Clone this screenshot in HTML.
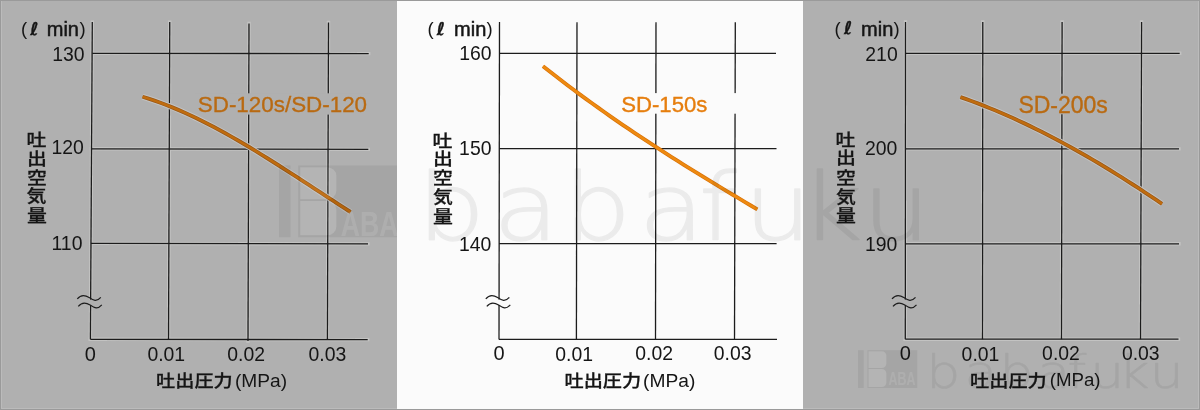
<!DOCTYPE html>
<html><head><meta charset="utf-8"><title>SD series air flow charts</title>
<style>
html,body{margin:0;padding:0;width:1200px;height:410px;overflow:hidden;background:#b0b0b0}
svg{display:block}

.num{font-family:"Liberation Sans",sans-serif}
.unitp{font-family:"Liberation Sans",sans-serif}
.unitm{font-family:"Liberation Sans",sans-serif;stroke:#151515;stroke-width:0.5px}
.ell{font-family:"DejaVu Sans",sans-serif;font-weight:bold;stroke:#151515;stroke-width:0.35px}
.jp{font-family:"Liberation Sans","Noto Sans CJK JP",sans-serif;font-weight:500;stroke:#151515;stroke-width:0.3px}
.mpa{font-family:"Liberation Sans",sans-serif}
.sd{font-family:"Liberation Sans",sans-serif;stroke-width:0.35px}

</style></head><body>
<svg width="1200" height="410" viewBox="0 0 1200 410">
<rect x="0" y="0" width="1200" height="410" fill="#b0b0b0"/><rect x="397" y="0" width="406" height="410" fill="#fbfbfb"/><g stroke="#c3c3c2" stroke-width="3.4" stroke-linecap="square"><line x1="92.3" y1="53.4" x2="368.7" y2="53.6"/><line x1="91.5" y1="148.8" x2="368.3" y2="149.4"/><line x1="90.9" y1="243.4" x2="368" y2="243.9"/><line x1="90.4" y1="339.3" x2="367.7" y2="339.6"/><line x1="92.3" y1="22.1" x2="90.4" y2="339.3"/><line x1="169.75" y1="22.1" x2="168.5" y2="339.3"/><line x1="249" y1="23.5" x2="248" y2="341"/><line x1="328.5" y1="22.5" x2="327.4" y2="339.3"/></g><g stroke="#1c1c1c" stroke-width="1.3"><line x1="92.3" y1="53.4" x2="368.7" y2="53.6"/><line x1="91.5" y1="148.8" x2="368.3" y2="149.4"/><line x1="90.9" y1="243.4" x2="368" y2="243.9"/><line x1="90.4" y1="339.3" x2="367.7" y2="339.6"/><line x1="92.3" y1="22.1" x2="90.4" y2="339.3"/><line x1="169.75" y1="22.1" x2="168.5" y2="339.3"/><line x1="249" y1="23.5" x2="248" y2="341"/><line x1="328.5" y1="22.5" x2="327.4" y2="339.3"/></g><rect x="195" y="93.3" width="175" height="21.299999999999997" fill="#b0b0b0"/><rect x="87.63540353089535" y="299.6" width="6" height="5.4" fill="#b0b0b0"/><g fill="none" stroke="#1c1c1c" stroke-width="1.2"><path d="M77.3 298.9 C80.6 294.8 84.6 294.6 89.1 297.6 S96.6 302 100.8 297.3"/><path d="M78.3 306.4 C81.6 302.3 85.6 302.1 90.1 305.1 S97.6 309.5 101.8 304.8"/></g><path d="M142.60 96.76 L148.54 98.61 L154.48 100.60 L160.42 102.72 L166.36 104.97 L172.30 107.35 L178.24 109.84 L184.18 112.45 L190.12 115.17 L196.06 117.99 L202.00 120.92 L207.94 123.93 L213.88 127.04 L219.82 130.24 L225.76 133.51 L231.70 136.86 L237.64 140.27 L243.58 143.76 L249.52 147.30 L255.46 150.90 L261.40 154.55 L267.34 158.24 L273.28 161.98 L279.22 165.75 L285.16 169.55 L291.10 173.38 L297.04 177.23 L302.98 181.09 L308.92 184.97 L314.86 188.85 L320.80 192.73 L326.74 196.61 L332.68 200.48 L338.62 204.34 L344.56 208.18 L350.50 212.00" fill="none" stroke="#c3c3c2" stroke-width="5.9" stroke-linejoin="round"/><path d="M142.60 96.76 L148.54 98.61 L154.48 100.60 L160.42 102.72 L166.36 104.97 L172.30 107.35 L178.24 109.84 L184.18 112.45 L190.12 115.17 L196.06 117.99 L202.00 120.92 L207.94 123.93 L213.88 127.04 L219.82 130.24 L225.76 133.51 L231.70 136.86 L237.64 140.27 L243.58 143.76 L249.52 147.30 L255.46 150.90 L261.40 154.55 L267.34 158.24 L273.28 161.98 L279.22 165.75 L285.16 169.55 L291.10 173.38 L297.04 177.23 L302.98 181.09 L308.92 184.97 L314.86 188.85 L320.80 192.73 L326.74 196.61 L332.68 200.48 L338.62 204.34 L344.56 208.18 L350.50 212.00" fill="none" stroke="#98581a" stroke-width="3.9" stroke-linejoin="round"/><path d="M142.60 96.76 L148.54 98.61 L154.48 100.60 L160.42 102.72 L166.36 104.97 L172.30 107.35 L178.24 109.84 L184.18 112.45 L190.12 115.17 L196.06 117.99 L202.00 120.92 L207.94 123.93 L213.88 127.04 L219.82 130.24 L225.76 133.51 L231.70 136.86 L237.64 140.27 L243.58 143.76 L249.52 147.30 L255.46 150.90 L261.40 154.55 L267.34 158.24 L273.28 161.98 L279.22 165.75 L285.16 169.55 L291.10 173.38 L297.04 177.23 L302.98 181.09 L308.92 184.97 L314.86 188.85 L320.80 192.73 L326.74 196.61 L332.68 200.48 L338.62 204.34 L344.56 208.18 L350.50 212.00" fill="none" stroke="#c06c0e" stroke-width="2.5" stroke-linejoin="round"/><g stroke="#1c1c1c" stroke-width="1.3"><line x1="499.5" y1="53.3" x2="776" y2="53.3"/><line x1="499.3" y1="148.7" x2="776.5" y2="148.7"/><line x1="499.1" y1="243.6" x2="776.6" y2="243.6"/><line x1="499" y1="339.3" x2="777" y2="339.3"/><line x1="499.5" y1="22.1" x2="499" y2="339.4"/><line x1="577" y1="22.3" x2="576.4" y2="339.4"/><line x1="656" y1="22.3" x2="655.5" y2="339.4"/><line x1="735.3" y1="22.3" x2="734.5" y2="339.4"/></g><rect x="617" y="93.1" width="128" height="20.60000000000001" fill="#fbfbfb"/><rect x="496.06208635360855" y="299.6" width="6" height="5.4" fill="#fbfbfb"/><g fill="none" stroke="#1c1c1c" stroke-width="1.2"><path d="M485.8 298.9 C489.1 294.8 493.1 294.6 497.6 297.6 S505.1 302 509.3 297.3"/><path d="M486.8 306.4 C490.1 302.3 494.1 302.1 498.6 305.1 S506.1 309.5 510.3 304.8"/></g><path d="M543.00 66.21 L549.12 71.04 L555.25 75.81 L561.37 80.52 L567.49 85.18 L573.61 89.78 L579.74 94.32 L585.86 98.82 L591.98 103.26 L598.11 107.66 L604.23 112.00 L610.35 116.30 L616.47 120.55 L622.60 124.77 L628.72 128.93 L634.84 133.06 L640.97 137.15 L647.09 141.20 L653.21 145.22 L659.33 149.20 L665.46 153.14 L671.58 157.06 L677.70 160.94 L683.83 164.80 L689.95 168.62 L696.07 172.43 L702.19 176.20 L708.32 179.96 L714.44 183.69 L720.56 187.40 L726.69 191.09 L732.81 194.77 L738.93 198.43 L745.05 202.08 L751.18 205.71 L757.30 209.33" fill="none" stroke="#d8720a" stroke-width="3.9" stroke-linejoin="round"/><path d="M543.00 66.21 L549.12 71.04 L555.25 75.81 L561.37 80.52 L567.49 85.18 L573.61 89.78 L579.74 94.32 L585.86 98.82 L591.98 103.26 L598.11 107.66 L604.23 112.00 L610.35 116.30 L616.47 120.55 L622.60 124.77 L628.72 128.93 L634.84 133.06 L640.97 137.15 L647.09 141.20 L653.21 145.22 L659.33 149.20 L665.46 153.14 L671.58 157.06 L677.70 160.94 L683.83 164.80 L689.95 168.62 L696.07 172.43 L702.19 176.20 L708.32 179.96 L714.44 183.69 L720.56 187.40 L726.69 191.09 L732.81 194.77 L738.93 198.43 L745.05 202.08 L751.18 205.71 L757.30 209.33" fill="none" stroke="#ee8a10" stroke-width="2.5" stroke-linejoin="round"/><g stroke="#c3c3c2" stroke-width="3.4" stroke-linecap="square"><line x1="905.5" y1="53.3" x2="1179.7" y2="53.3"/><line x1="905.4" y1="148.85" x2="1179" y2="148.85"/><line x1="905.4" y1="243.8" x2="1179" y2="243.8"/><line x1="905.3" y1="339.2" x2="1178.5" y2="339.2"/><line x1="905.5" y1="21.9" x2="905.3" y2="339.2"/><line x1="982.8" y1="22" x2="982.5" y2="339.2"/><line x1="1062.1" y1="22" x2="1061.5" y2="339.2"/><line x1="1141.6" y1="22" x2="1140.5" y2="339.2"/></g><g stroke="#1c1c1c" stroke-width="1.3"><line x1="905.5" y1="53.3" x2="1179.7" y2="53.3"/><line x1="905.4" y1="148.85" x2="1179" y2="148.85"/><line x1="905.4" y1="243.8" x2="1179" y2="243.8"/><line x1="905.3" y1="339.2" x2="1178.5" y2="339.2"/><line x1="905.5" y1="21.9" x2="905.3" y2="339.2"/><line x1="982.8" y1="22" x2="982.5" y2="339.2"/><line x1="1062.1" y1="22" x2="1061.5" y2="339.2"/><line x1="1141.6" y1="22" x2="1140.5" y2="339.2"/></g><rect x="1015" y="93.7" width="97" height="20.599999999999994" fill="#b0b0b0"/><rect x="902.3247084777812" y="299.6" width="6" height="5.4" fill="#b0b0b0"/><g fill="none" stroke="#1c1c1c" stroke-width="1.2"><path d="M892.0 298.9 C895.3 294.8 899.3 294.6 903.8 297.6 S911.3 302 915.5 297.3"/><path d="M893.0 306.4 C896.3 302.3 900.3 302.1 904.8 305.1 S912.3 309.5 916.5 304.8"/></g><path d="M960.50 97.11 L966.26 99.14 L972.01 101.24 L977.77 103.41 L983.53 105.65 L989.29 107.95 L995.04 110.32 L1000.80 112.76 L1006.56 115.26 L1012.31 117.82 L1018.07 120.45 L1023.83 123.14 L1029.59 125.88 L1035.34 128.69 L1041.10 131.56 L1046.86 134.49 L1052.61 137.47 L1058.37 140.51 L1064.13 143.60 L1069.89 146.75 L1075.64 149.96 L1081.40 153.21 L1087.16 156.52 L1092.91 159.88 L1098.67 163.29 L1104.43 166.75 L1110.19 170.25 L1115.94 173.81 L1121.70 177.41 L1127.46 181.05 L1133.21 184.74 L1138.97 188.48 L1144.73 192.26 L1150.49 196.08 L1156.24 199.94 L1162.00 203.84" fill="none" stroke="#c3c3c2" stroke-width="5.9" stroke-linejoin="round"/><path d="M960.50 97.11 L966.26 99.14 L972.01 101.24 L977.77 103.41 L983.53 105.65 L989.29 107.95 L995.04 110.32 L1000.80 112.76 L1006.56 115.26 L1012.31 117.82 L1018.07 120.45 L1023.83 123.14 L1029.59 125.88 L1035.34 128.69 L1041.10 131.56 L1046.86 134.49 L1052.61 137.47 L1058.37 140.51 L1064.13 143.60 L1069.89 146.75 L1075.64 149.96 L1081.40 153.21 L1087.16 156.52 L1092.91 159.88 L1098.67 163.29 L1104.43 166.75 L1110.19 170.25 L1115.94 173.81 L1121.70 177.41 L1127.46 181.05 L1133.21 184.74 L1138.97 188.48 L1144.73 192.26 L1150.49 196.08 L1156.24 199.94 L1162.00 203.84" fill="none" stroke="#98581a" stroke-width="3.9" stroke-linejoin="round"/><path d="M960.50 97.11 L966.26 99.14 L972.01 101.24 L977.77 103.41 L983.53 105.65 L989.29 107.95 L995.04 110.32 L1000.80 112.76 L1006.56 115.26 L1012.31 117.82 L1018.07 120.45 L1023.83 123.14 L1029.59 125.88 L1035.34 128.69 L1041.10 131.56 L1046.86 134.49 L1052.61 137.47 L1058.37 140.51 L1064.13 143.60 L1069.89 146.75 L1075.64 149.96 L1081.40 153.21 L1087.16 156.52 L1092.91 159.88 L1098.67 163.29 L1104.43 166.75 L1110.19 170.25 L1115.94 173.81 L1121.70 177.41 L1127.46 181.05 L1133.21 184.74 L1138.97 188.48 L1144.73 192.26 L1150.49 196.08 L1156.24 199.94 L1162.00 203.84" fill="none" stroke="#c06c0e" stroke-width="2.5" stroke-linejoin="round"/><g fill="#151515"><text class="unitp" x="21.10" y="35.05" style="font-size:18.50px">(</text><text class="ell" x="30.15" y="34.50" style="font-size:17.50px">ℓ</text><text class="unitm" x="46.75" y="35.75" style="font-size:20.00px">min</text><text class="unitp" x="79.50" y="35.05" style="font-size:18.50px">)</text><text class="unitp" x="427.60" y="35.10" style="font-size:18.50px">(</text><text class="ell" x="436.85" y="34.60" style="font-size:17.50px">ℓ</text><text class="unitm" x="454.05" y="35.50" style="font-size:20.00px">min</text><text class="unitp" x="486.50" y="35.10" style="font-size:18.50px">)</text><text class="unitp" x="834.60" y="34.75" style="font-size:18.50px">(</text><text class="ell" x="844.10" y="33.90" style="font-size:17.50px">ℓ</text><text class="unitm" x="861.05" y="35.50" style="font-size:20.00px">min</text><text class="unitp" x="893.50" y="34.75" style="font-size:18.50px">)</text><text class="num" transform="translate(52.20 60.90) scale(0.971 1.000)" style="font-size:20.00px">130</text><text class="num" transform="translate(51.40 154.30) scale(0.971 1.000)" style="font-size:20.00px">120</text><text class="num" transform="translate(51.50 250.30) scale(0.971 1.000)" style="font-size:20.00px">110</text><text class="num" transform="translate(459.20 60.40) scale(0.971 1.000)" style="font-size:20.00px">160</text><text class="num" transform="translate(459.10 155.20) scale(0.971 1.000)" style="font-size:20.00px">150</text><text class="num" transform="translate(459.00 250.60) scale(0.971 1.000)" style="font-size:20.00px">140</text><text class="num" transform="translate(865.30 60.80) scale(0.971 1.000)" style="font-size:20.00px">210</text><text class="num" transform="translate(864.90 154.60) scale(0.971 1.000)" style="font-size:20.00px">200</text><text class="num" transform="translate(864.90 251.00) scale(0.971 1.000)" style="font-size:20.00px">190</text><text class="jp" transform="translate(26.50 146.00) scale(1.048 0.880)" style="font-size:19.00px">吐</text><text class="jp" transform="translate(27.00 164.80) scale(1.048 0.880)" style="font-size:19.00px">出</text><text class="jp" transform="translate(27.00 184.10) scale(1.048 0.880)" style="font-size:19.00px">空</text><text class="jp" transform="translate(26.50 202.00) scale(1.048 0.880)" style="font-size:19.00px">気</text><text class="jp" transform="translate(27.00 221.80) scale(1.048 0.880)" style="font-size:19.00px">量</text><text class="jp" transform="translate(432.40 146.80) scale(1.048 0.880)" style="font-size:19.00px">吐</text><text class="jp" transform="translate(432.90 164.60) scale(1.048 0.880)" style="font-size:19.00px">出</text><text class="jp" transform="translate(432.90 183.90) scale(1.048 0.880)" style="font-size:19.00px">空</text><text class="jp" transform="translate(432.90 202.80) scale(1.048 0.880)" style="font-size:19.00px">気</text><text class="jp" transform="translate(432.90 222.60) scale(1.048 0.880)" style="font-size:19.00px">量</text><text class="jp" transform="translate(835.50 145.60) scale(1.048 0.880)" style="font-size:19.00px">吐</text><text class="jp" transform="translate(836.00 164.40) scale(1.048 0.880)" style="font-size:19.00px">出</text><text class="jp" transform="translate(836.00 183.70) scale(1.048 0.880)" style="font-size:19.00px">空</text><text class="jp" transform="translate(836.00 202.60) scale(1.048 0.880)" style="font-size:19.00px">気</text><text class="jp" transform="translate(836.00 222.40) scale(1.048 0.880)" style="font-size:19.00px">量</text><text class="num" x="84.85" y="360.60" style="font-size:20.00px">0</text><text class="num" transform="translate(147.40 361.00) scale(0.970 1.000)" style="font-size:20.00px">0.01</text><text class="num" transform="translate(227.30 361.00) scale(0.970 1.000)" style="font-size:20.00px">0.02</text><text class="num" transform="translate(308.50 361.00) scale(0.970 1.000)" style="font-size:20.00px">0.03</text><text class="num" x="493.55" y="360.05" style="font-size:20.00px">0</text><text class="num" transform="translate(555.20 360.90) scale(0.970 1.000)" style="font-size:20.00px">0.01</text><text class="num" transform="translate(635.30 360.30) scale(0.970 1.000)" style="font-size:20.00px">0.02</text><text class="num" transform="translate(713.80 360.30) scale(0.970 1.000)" style="font-size:20.00px">0.03</text><text class="num" x="899.75" y="360.05" style="font-size:20.00px">0</text><text class="num" transform="translate(961.60 360.70) scale(0.970 1.000)" style="font-size:20.00px">0.01</text><text class="num" transform="translate(1042.10 359.80) scale(0.970 1.000)" style="font-size:20.00px">0.02</text><text class="num" transform="translate(1121.90 359.80) scale(0.970 1.000)" style="font-size:20.00px">0.03</text><text class="jp" transform="translate(156.10 387.30) scale(1.009 0.889)" style="font-size:19.00px">吐出圧力</text><text class="mpa" x="234.90" y="387.00" style="font-size:19.17px">(MPa)</text><text class="jp" transform="translate(564.50 386.80) scale(1.009 0.889)" style="font-size:19.00px">吐出圧力</text><text class="mpa" x="643.10" y="387.10" style="font-size:19.19px">(MPa)</text><text class="jp" transform="translate(970.10 386.60) scale(1.009 0.889)" style="font-size:19.00px">吐出圧力</text><text class="mpa" x="1049.70" y="386.00" style="font-size:18.69px">(MPa)</text><text class="sd" x="197.80" y="111.90" style="font-size:22.40px" fill="#b96a12" stroke="#b96a12">SD-120s/SD-120</text><text class="sd" x="621.20" y="111.70" style="font-size:22.17px" fill="#e67e0e" stroke="#e67e0e">SD-150s</text><text class="sd" x="1018.40" y="113.20" style="font-size:22.99px" fill="#b96a12" stroke="#b96a12">SD-200s</text></g><defs><clipPath id="lc"><rect x="0" y="0" width="397" height="410"/></clipPath></defs><g clip-path="url(#lc)"><g transform="translate(279,165.4) scale(2.02,1.9)"><g fill="#000" opacity="0.06"><rect x="0" y="0" width="5.7" height="37.8"/><path d="M9.5 0 H59.3 V37.8 H9.5 Z M10.5 1 V17.8 H23.9 A4.5 4.5 0 0 0 28.4 13.3 V5.5 A4.5 4.5 0 0 0 23.9 1 Z M10.5 18.8 V36.8 H23.9 A4.5 4.5 0 0 0 28.4 32.3 V23.3 A4.5 4.5 0 0 0 23.9 18.8 Z" fill-rule="evenodd"/></g><g fill="#fff" opacity="0.05"><path d="M10.5 1 V17.8 H23.9 A4.5 4.5 0 0 0 28.4 13.3 V5.5 A4.5 4.5 0 0 0 23.9 1 Z M10.5 18.8 V36.8 H23.9 A4.5 4.5 0 0 0 28.4 32.3 V23.3 A4.5 4.5 0 0 0 23.9 18.8 Z"/></g><g fill="#fff" opacity="0.1"><text transform="translate(30.6 37.3) scale(0.72 1)" style="font-family:Liberation Sans,sans-serif;font-weight:bold;font-size:18.3px">ABA</text></g></g></g><g opacity="0.06" transform="scale(1.15 1)"><text x="362.8 429.0 489.8 555.5 607.8 646.9 696.1 750.1" y="239.6" fill="#000" stroke="#000" stroke-width="1.4" stroke-linejoin="round" style="font-family:DejaVu Sans,sans-serif;font-weight:200;font-size:93px">babafuku</text></g><g transform="translate(858,350.2) scale(1.0,1.0)"><g fill="#000" opacity="0.06"><rect x="0" y="0" width="5.7" height="37.8"/><path d="M9.5 0 H59.3 V37.8 H9.5 Z M10.5 1 V17.8 H23.9 A4.5 4.5 0 0 0 28.4 13.3 V5.5 A4.5 4.5 0 0 0 23.9 1 Z M10.5 18.8 V36.8 H23.9 A4.5 4.5 0 0 0 28.4 32.3 V23.3 A4.5 4.5 0 0 0 23.9 18.8 Z" fill-rule="evenodd"/></g><g fill="#fff" opacity="0.05"><path d="M10.5 1 V17.8 H23.9 A4.5 4.5 0 0 0 28.4 13.3 V5.5 A4.5 4.5 0 0 0 23.9 1 Z M10.5 18.8 V36.8 H23.9 A4.5 4.5 0 0 0 28.4 32.3 V23.3 A4.5 4.5 0 0 0 23.9 18.8 Z"/></g><g fill="#fff" opacity="0.1"><text transform="translate(30.6 34.4) scale(0.68 1)" style="font-family:Liberation Sans,sans-serif;font-weight:bold;font-size:18.3px">ABA</text></g></g><g opacity="0.06" transform="scale(1.15 1)"><text x="805.5 838.7 869.1 902.1 928.3 948.0 972.7 999.8" y="388.2" fill="#000" stroke="#000" stroke-width="0.7" stroke-linejoin="round" style="font-family:DejaVu Sans,sans-serif;font-weight:200;font-size:46.6px">babafuku</text></g><path d="M1.5 1 V408.5 H1198.5 V1" fill="none" stroke="#fff" stroke-opacity="0.15" stroke-width="1"/><rect x="0.5" y="0.5" width="1199" height="409" fill="none" stroke="#9a9a9a" stroke-width="1"/>
</svg>
</body></html>
